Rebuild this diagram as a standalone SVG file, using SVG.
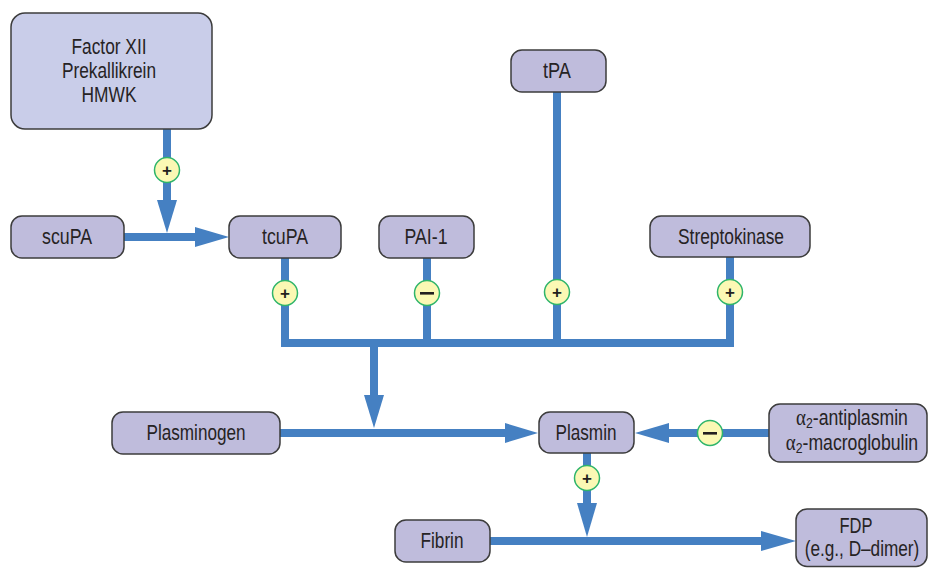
<svg xmlns="http://www.w3.org/2000/svg" width="930" height="569" viewBox="0 0 930 569">
  <style>
    .box { fill: #bfbcdc; stroke: #3c3c3c; stroke-width: 1.5; }
    .box-light { fill: #c9cde9; stroke: #3c3c3c; stroke-width: 1.5; }
    .lbl { font-family: "Liberation Sans", Arial, sans-serif; font-size: 21.5px; fill: #262324; text-anchor: middle; }
    .wire { stroke: #4580c2; stroke-width: 8; fill: none; }
    .head { fill: #4580c2; }
    .sign { fill: #fbf8b4; stroke: #2fb56b; stroke-width: 1.5; }
    .sym { font-family: "Liberation Sans", Arial, sans-serif; font-size: 17px; font-weight: bold; fill: #231f20; text-anchor: middle; }
    .greek { font-family: "Liberation Serif", "Times New Roman", serif; font-size: 23px; }
    .sub { font-size: 15px; }
  </style>

  <!-- connectors -->
  <g id="connectors">
    <!-- contact factors activate scuPA -> tcuPA -->
    <line class="wire" x1="167" y1="129" x2="167" y2="205"/>
    <polygon class="head" points="157,200 177,200 167,233"/>
    <line class="wire" x1="124" y1="237" x2="200" y2="237"/>
    <polygon class="head" points="195,227 195,247 229,237"/>

    <!-- activators / inhibitor bus -->
    <line class="wire" x1="285" y1="258" x2="285" y2="343"/>
    <line class="wire" x1="427" y1="258" x2="427" y2="343"/>
    <line class="wire" x1="557" y1="92" x2="557" y2="343"/>
    <line class="wire" x1="730" y1="257" x2="730" y2="343"/>
    <line class="wire" x1="281" y1="343" x2="734" y2="343"/>
    <line class="wire" x1="374" y1="343" x2="374" y2="400"/>
    <polygon class="head" points="364,395 384,395 374,428"/>

    <!-- plasminogen -> plasmin -->
    <line class="wire" x1="280" y1="433" x2="510" y2="433"/>
    <polygon class="head" points="505,423 505,443 538,433"/>

    <!-- inhibitors -> plasmin -->
    <line class="wire" x1="769" y1="433" x2="664" y2="433"/>
    <polygon class="head" points="669,423 669,443 635,433"/>

    <!-- plasmin cleaves fibrin -> FDP -->
    <line class="wire" x1="587" y1="453" x2="587" y2="508"/>
    <polygon class="head" points="577,503 597,503 587,537"/>
    <line class="wire" x1="490" y1="541" x2="766" y2="541"/>
    <polygon class="head" points="761,531 761,551 796,541"/>

    <!-- effect markers -->
    <circle class="sign" cx="167" cy="170" r="12.5"/>
    <text class="sym" x="167" y="176">+</text>
    <circle class="sign" cx="285" cy="293" r="12.5"/>
    <text class="sym" x="285" y="299">+</text>
    <circle class="sign" cx="427" cy="293" r="12.5"/>
    <rect x="420" y="292" width="14" height="2.6" fill="#231f20"/>
    <circle class="sign" cx="557" cy="292" r="12.5"/>
    <text class="sym" x="557" y="298">+</text>
    <circle class="sign" cx="730" cy="292" r="12.5"/>
    <text class="sym" x="730" y="298">+</text>
    <circle class="sign" cx="710" cy="433" r="12.5"/>
    <rect x="703" y="432" width="14" height="2.6" fill="#231f20"/>
    <circle class="sign" cx="587" cy="478" r="12.5"/>
    <text class="sym" x="587" y="484">+</text>
  </g>

  <!-- nodes -->
  <g id="contact-factors">
    <rect class="box-light" x="11" y="13" width="201" height="116" rx="14"/>
    <text class="lbl" x="109" y="54" textLength="75" lengthAdjust="spacingAndGlyphs">Factor XII</text>
    <text class="lbl" x="109" y="78" textLength="94" lengthAdjust="spacingAndGlyphs">Prekallikrein</text>
    <text class="lbl" x="109" y="102" textLength="55" lengthAdjust="spacingAndGlyphs">HMWK</text>
  </g>
  <g id="scuPA">
    <rect class="box" x="11" y="216" width="113" height="42" rx="11"/>
    <text class="lbl" x="67" y="244" textLength="50" lengthAdjust="spacingAndGlyphs">scuPA</text>
  </g>
  <g id="tcuPA">
    <rect class="box" x="229" y="216" width="112" height="42" rx="11"/>
    <text class="lbl" x="285" y="244" textLength="46" lengthAdjust="spacingAndGlyphs">tcuPA</text>
  </g>
  <g id="PAI-1">
    <rect class="box" x="379" y="216" width="95" height="42" rx="11"/>
    <text class="lbl" x="426" y="244" textLength="43" lengthAdjust="spacingAndGlyphs">PAI-1</text>
  </g>
  <g id="tPA">
    <rect class="box" x="511" y="50" width="95" height="42" rx="11"/>
    <text class="lbl" x="557" y="78" textLength="28" lengthAdjust="spacingAndGlyphs">tPA</text>
  </g>
  <g id="streptokinase">
    <rect class="box" x="650" y="216" width="160" height="41" rx="11"/>
    <text class="lbl" x="731" y="244" textLength="106" lengthAdjust="spacingAndGlyphs">Streptokinase</text>
  </g>
  <g id="plasminogen">
    <rect class="box" x="112" y="412" width="168" height="42" rx="11"/>
    <text class="lbl" x="196" y="439.5" textLength="99" lengthAdjust="spacingAndGlyphs">Plasminogen</text>
  </g>
  <g id="plasmin">
    <rect class="box" x="539" y="412" width="95" height="41" rx="11"/>
    <text class="lbl" x="586" y="439.5" textLength="61" lengthAdjust="spacingAndGlyphs">Plasmin</text>
  </g>
  <g id="antiplasmins">
    <rect class="box" x="769" y="404" width="158" height="58" rx="11"/>
    <text class="lbl" transform="translate(852,425) scale(0.82,1)" x="0" y="0"><tspan class="greek">α</tspan><tspan class="sub" dy="3">2</tspan><tspan dy="-3">-antiplasmin</tspan></text>
    <text class="lbl" transform="translate(852,450) scale(0.82,1)" x="0" y="0"><tspan class="greek">α</tspan><tspan class="sub" dy="3">2</tspan><tspan dy="-3">-macroglobulin</tspan></text>
  </g>
  <g id="fibrin">
    <rect class="box" x="395" y="520" width="95" height="42" rx="11"/>
    <text class="lbl" x="442" y="548" textLength="43" lengthAdjust="spacingAndGlyphs">Fibrin</text>
  </g>
  <g id="FDP">
    <rect class="box" x="796" y="509" width="131" height="57.5" rx="11"/>
    <text class="lbl" x="856" y="533" textLength="33" lengthAdjust="spacingAndGlyphs">FDP</text>
    <text class="lbl" transform="translate(862,556) scale(0.8,1)" x="0" y="0" font-size="21">(e.g., D–dimer)</text>
  </g>
</svg>
